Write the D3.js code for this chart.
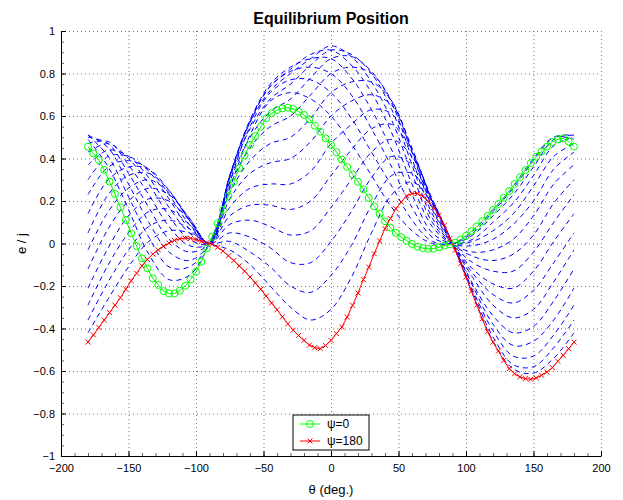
<!DOCTYPE html>
<html>
<head>
<meta charset="utf-8">
<script src="https://cdn.jsdelivr.net/npm/d3@7/dist/d3.min.js"></script>
<style>
body { margin: 0; background: #fff; }
svg { font-family: "Liberation Sans", Arial, sans-serif; }
.grid line { stroke: #777; stroke-dasharray: 1,3; }
.grid path { display: none; }
.axis path, .axis line { stroke: #000; }
.axis text { font-size: 11px; fill: #000; }
.minor line { stroke: #666; }
.minor path { display: none; }
</style>
</head>
<body>
<script>
// theta grids (deg.)
var thetaFine = d3.range(-180, 181, 4);
var thetaCoarse = d3.range(-180, 181, 15);

var xTicks = [-200, -150, -100, -50, 0, 50, 100, 150, 200];
var yTicks = [-1, -0.8, -0.6, -0.4, -0.2, 0, 0.2, 0.4, 0.6, 0.8, 1];

// psi = 0 (green, circles), every 4 deg
var eGreen = [0.456,0.424,0.393,0.346,0.291,0.233,0.170,0.111,0.048,-0.012,
  -0.070,-0.117,-0.164,-0.195,-0.224,-0.235,-0.235,-0.222,-0.199,-0.169,
  -0.133,-0.086,-0.023,0.032,0.095,0.158,0.224,0.290,0.355,0.415,
  0.464,0.506,0.550,0.589,0.613,0.628,0.636,0.639,0.633,0.620,
  0.605,0.584,0.554,0.526,0.495,0.464,0.430,0.395,0.360,0.325,
  0.290,0.255,0.215,0.175,0.140,0.105,0.075,0.050,0.030,0.013,
  -0.002,-0.015,-0.022,-0.025,-0.024,-0.018,-0.010,-0.004,0.004,0.018,
  0.036,0.058,0.080,0.105,0.130,0.158,0.186,0.215,0.247,0.280,
  0.312,0.345,0.378,0.408,0.433,0.456,0.478,0.490,0.495,0.480,
  0.456];

// psi = 180 (red, crosses), every 4 deg
var eRed = [-0.464,-0.430,-0.395,-0.360,-0.325,-0.290,-0.255,-0.215,-0.175,-0.140,
  -0.105,-0.075,-0.050,-0.030,-0.013,0.002,0.015,0.022,0.025,0.024,
  0.018,0.010,0.004,-0.004,-0.018,-0.036,-0.058,-0.080,-0.105,-0.130,
  -0.158,-0.186,-0.215,-0.247,-0.280,-0.312,-0.345,-0.378,-0.408,-0.433,
  -0.456,-0.478,-0.490,-0.495,-0.480,-0.456,-0.424,-0.393,-0.346,-0.291,
  -0.233,-0.170,-0.111,-0.048,0.012,0.070,0.117,0.164,0.195,0.224,
  0.235,0.235,0.222,0.199,0.169,0.133,0.086,0.023,-0.032,-0.095,
  -0.158,-0.224,-0.290,-0.355,-0.415,-0.464,-0.506,-0.550,-0.589,-0.613,
  -0.628,-0.636,-0.639,-0.633,-0.620,-0.605,-0.584,-0.554,-0.526,-0.495,
  -0.464];

// intermediate psi (blue dashed), every 15 deg
var psiBlue = [10, 20, 30, 40, 50, 60, 70, 80, 90, 100, 110, 120, 130, 140, 150, 160, 170];
var eBlue = [
  [0.49,0.36,0.16,-0.05,-0.17,-0.15,0,0.26,0.51,0.67,0.71,0.68,0.60,0.47,0.32,0.17,0.06,0,0,0.06,0.16,0.27,0.40,0.50,0.49],
  [0.51,0.41,0.22,0.03,-0.11,-0.11,0,0.29,0.55,0.71,0.77,0.77,0.71,0.59,0.43,0.27,0.11,0.01,0,0.05,0.15,0.26,0.39,0.50,0.51],
  [0.51,0.45,0.28,0.10,-0.04,-0.08,0,0.31,0.57,0.74,0.81,0.83,0.80,0.70,0.54,0.36,0.17,0.03,0,0.04,0.13,0.23,0.36,0.49,0.51],
  [0.50,0.47,0.33,0.17,0.02,-0.04,0,0.32,0.58,0.75,0.83,0.87,0.87,0.78,0.63,0.44,0.23,0.05,0,0.02,0.10,0.19,0.32,0.46,0.50],
  [0.47,0.48,0.37,0.23,0.08,-0.01,0,0.32,0.58,0.74,0.82,0.89,0.91,0.84,0.71,0.52,0.28,0.08,0,0.01,0.06,0.14,0.27,0.41,0.47],
  [0.43,0.47,0.40,0.28,0.13,0.02,0,0.32,0.57,0.72,0.80,0.87,0.93,0.88,0.76,0.58,0.33,0.10,0,-0.01,0.02,0.09,0.20,0.35,0.43],
  [0.37,0.44,0.41,0.31,0.17,0.05,0,0.31,0.54,0.68,0.75,0.84,0.91,0.89,0.80,0.63,0.37,0.12,0,-0.04,-0.03,0.02,0.13,0.28,0.37],
  [0.30,0.41,0.41,0.34,0.21,0.07,0,0.29,0.50,0.62,0.68,0.78,0.87,0.88,0.81,0.66,0.40,0.14,0,-0.06,-0.08,-0.05,0.04,0.19,0.30],
  [0.23,0.36,0.39,0.35,0.23,0.09,0,0.27,0.45,0.55,0.60,0.70,0.80,0.83,0.80,0.67,0.43,0.16,0,-0.09,-0.13,-0.13,-0.04,0.10,0.23],
  [0.14,0.30,0.36,0.35,0.25,0.11,0,0.24,0.39,0.47,0.50,0.59,0.71,0.76,0.76,0.67,0.44,0.17,0,-0.12,-0.19,-0.21,-0.13,0.01,0.14],
  [0.05,0.23,0.32,0.33,0.25,0.11,0,0.21,0.33,0.38,0.40,0.48,0.60,0.67,0.70,0.65,0.45,0.19,0,-0.14,-0.24,-0.28,-0.22,-0.09,0.05],
  [-0.03,0.15,0.26,0.30,0.24,0.12,0,0.17,0.26,0.28,0.28,0.34,0.47,0.56,0.63,0.61,0.44,0.20,0,-0.16,-0.29,-0.35,-0.31,-0.18,-0.03],
  [-0.12,0.07,0.20,0.26,0.23,0.12,0,0.13,0.18,0.18,0.16,0.20,0.32,0.44,0.54,0.56,0.43,0.20,0,-0.19,-0.34,-0.42,-0.39,-0.27,-0.12],
  [-0.21,-0.02,0.13,0.21,0.20,0.11,0,0.09,0.11,0.08,0.04,0.06,0.17,0.30,0.43,0.49,0.41,0.21,0,-0.20,-0.38,-0.48,-0.46,-0.36,-0.21],
  [-0.29,-0.10,0.05,0.15,0.16,0.09,0,0.05,0.03,-0.02,-0.09,-0.09,0.01,0.15,0.31,0.41,0.37,0.20,0,-0.22,-0.41,-0.53,-0.53,-0.43,-0.29],
  [-0.36,-0.18,-0.03,0.08,0.11,0.07,0,0.01,-0.04,-0.11,-0.20,-0.23,-0.15,-0.01,0.18,0.32,0.33,0.20,0,-0.23,-0.44,-0.57,-0.58,-0.49,-0.36],
  [-0.42,-0.26,-0.11,0.01,0.06,0.05,0,-0.03,-0.10,-0.20,-0.30,-0.36,-0.31,-0.16,0.05,0.23,0.29,0.19,0,-0.24,-0.46,-0.59,-0.61,-0.54,-0.42]
];

var legendLabels = ["\u03c8=0", "\u03c8=180"];

var margin = {top: 31, right: 22, bottom: 44, left: 61};
var width = 623 - margin.left - margin.right;
var height = 500 - margin.top - margin.bottom;

var svg = d3.select("body").append("svg")
    .attr("width", 623)
    .attr("height", 500);

var g = svg.append("g")
    .attr("transform", "translate(" + margin.left + "," + margin.top + ")");

var xScale = d3.scaleLinear().domain([-200, 200]).range([0, width]);
var yScale = d3.scaleLinear().domain([-1, 1]).range([height, 0]);

// dotted grid
g.append("g")
    .attr("class", "grid")
    .attr("transform", "translate(0," + height + ")")
    .call(d3.axisBottom(xScale).tickValues(xTicks.slice(1)).tickSize(-height).tickFormat(""));
g.append("g")
    .attr("class", "grid")
    .call(d3.axisLeft(yScale).tickValues(yTicks.slice(1)).tickSize(-width).tickFormat(""));

// blue dashed family
var blueLine = d3.line()
    .x(function(d) { return xScale(d[0]); })
    .y(function(d) { return yScale(d[1]); })
    .curve(d3.curveCatmullRom);

eBlue.forEach(function(row) {
  g.append("path")
      .datum(thetaCoarse.map(function(t, i) { return [t, row[i]]; }))
      .attr("fill", "none")
      .attr("stroke", "#0000ff")
      .attr("stroke-width", 1)
      .attr("stroke-dasharray", "5,4")
      .attr("d", blueLine);
});

var line = d3.line()
    .x(function(d) { return xScale(d[0]); })
    .y(function(d) { return yScale(d[1]); });

var greenData = thetaFine.map(function(t, i) { return [t, eGreen[i]]; });
var redData = thetaFine.map(function(t, i) { return [t, eRed[i]]; });

g.append("path").datum(greenData)
    .attr("fill", "none").attr("stroke", "#00ff00").attr("stroke-width", 1)
    .attr("d", line);
g.selectAll(".gdot").data(greenData).enter().append("circle")
    .attr("class", "gdot")
    .attr("cx", function(d) { return xScale(d[0]); })
    .attr("cy", function(d) { return yScale(d[1]); })
    .attr("r", 3.5)
    .attr("fill", "none").attr("stroke", "#00ff00");

g.append("path").datum(redData)
    .attr("fill", "none").attr("stroke", "#ff0000").attr("stroke-width", 1)
    .attr("d", line);
g.selectAll(".rdot").data(redData).enter().append("path")
    .attr("class", "rdot")
    .attr("transform", function(d) { return "translate(" + xScale(d[0]) + "," + yScale(d[1]) + ")"; })
    .attr("d", "M-2.5,-2.5L2.5,2.5M-2.5,2.5L2.5,-2.5")
    .attr("stroke", "#ff0000").attr("fill", "none");

// minor ticks
g.append("g")
    .attr("class", "minor")
    .attr("transform", "translate(0," + height + ")")
    .call(d3.axisBottom(xScale).ticks(40).tickSize(-3).tickFormat(""));
g.append("g")
    .attr("class", "minor")
    .call(d3.axisLeft(yScale).ticks(40).tickSize(-3).tickFormat(""));

// axes
g.append("g")
    .attr("class", "axis")
    .attr("transform", "translate(0," + height + ")")
    .call(d3.axisBottom(xScale).tickValues(xTicks).tickSizeInner(-5).tickSizeOuter(0).tickPadding(8)
        .tickFormat(d3.format("d")));
g.append("g")
    .attr("class", "axis")
    .call(d3.axisLeft(yScale).tickValues(yTicks).tickSizeInner(-5).tickSizeOuter(0).tickPadding(6)
        .tickFormat(d3.format("~g")));

// title and labels
svg.append("text")
    .attr("x", margin.left + width / 2).attr("y", 24)
    .attr("text-anchor", "middle")
    .attr("font-size", "16px").attr("font-weight", "bold")
    .text("Equilibrium Position");

svg.append("text")
    .attr("x", margin.left + width / 2).attr("y", 494)
    .attr("text-anchor", "middle")
    .attr("font-size", "13px")
    .text("\u03b8 (deg.)");

svg.append("text")
    .attr("transform", "translate(26," + (margin.top + height / 2) + ") rotate(-90)")
    .attr("text-anchor", "middle")
    .attr("font-size", "13px")
    .text("e / j");

// legend
var legend = svg.append("g").attr("transform", "translate(293,415)");
legend.append("rect")
    .attr("width", 76).attr("height", 35)
    .attr("fill", "#fff").attr("stroke", "#000");

var items = legend.selectAll(".item").data(legendLabels).enter().append("g")
    .attr("transform", function(d, i) { return "translate(0," + (9 + i * 17) + ")"; });
items.append("line")
    .attr("x1", 7).attr("x2", 27)
    .attr("stroke", function(d, i) { return i === 0 ? "#00ff00" : "#ff0000"; });
items.filter(function(d, i) { return i === 0; }).append("circle")
    .attr("cx", 17).attr("r", 3.5).attr("fill", "none").attr("stroke", "#00ff00");
items.filter(function(d, i) { return i === 1; }).append("path")
    .attr("transform", "translate(17,0)")
    .attr("d", "M-2.5,-2.5L2.5,2.5M-2.5,2.5L2.5,-2.5")
    .attr("stroke", "#ff0000");
items.append("text")
    .attr("x", 34).attr("dy", "0.35em")
    .attr("font-size", "12px")
    .text(function(d) { return d; });
</script>
</body>
</html>
